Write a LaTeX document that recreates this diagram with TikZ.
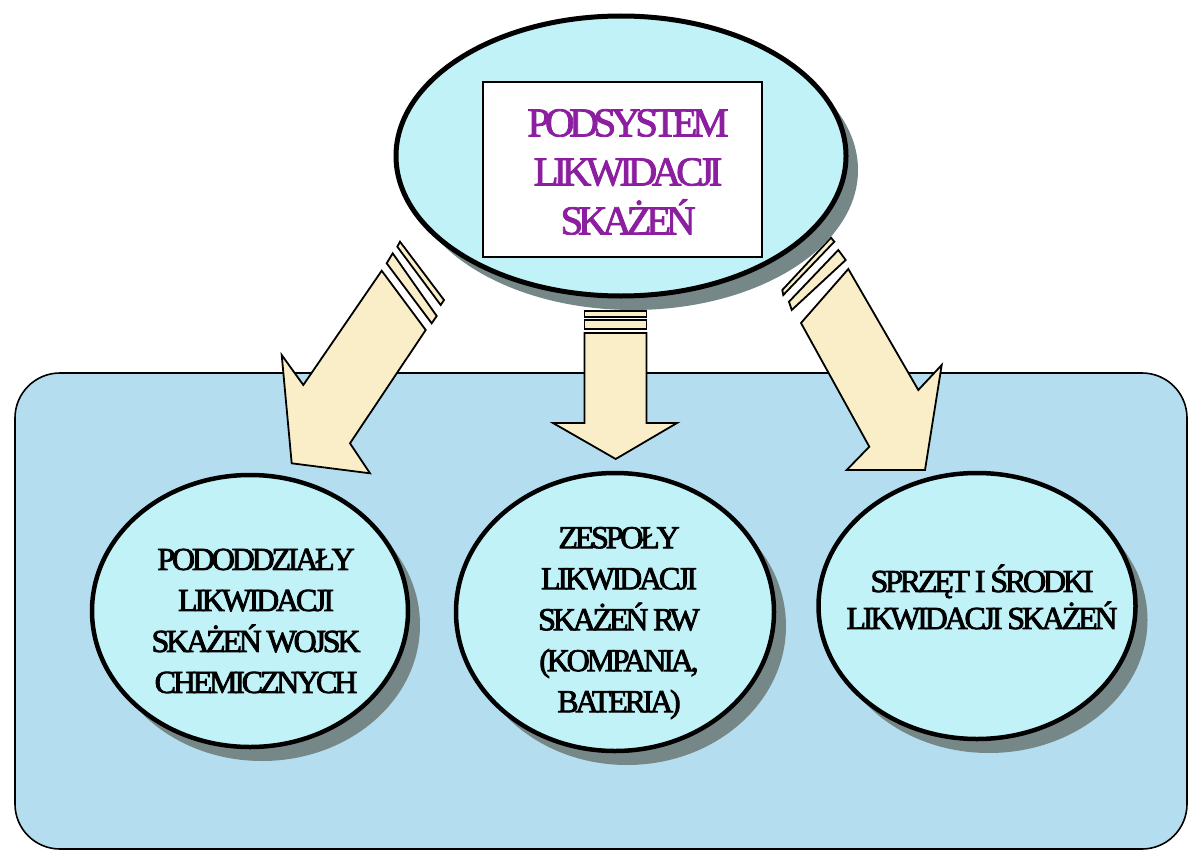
\documentclass[tikz,border=0pt]{standalone}
\usepackage{fontspec}
\setmainfont{Liberation Serif}
\newfontfamily\tightfont[LetterSpace=-10,FakeBold=2.5]{Liberation Serif}
\newfontfamily\toptightfont[LetterSpace=-13,FakeBold=2]{Liberation Serif}
\usetikzlibrary{shapes.geometric,shadows}
\definecolor{panelblue}{RGB}{180,222,240}
\definecolor{ellcyan}{RGB}{192,242,248}
\definecolor{creamfill}{RGB}{250,238,200}
\definecolor{shgrey}{RGB}{118,135,135}
\definecolor{titlepurple}{RGB}{140,30,160}
\tikzset{
  panelbox/.style={draw=black, line width=1.6pt, fill=panelblue, rounded corners=45pt},
  fatarrow/.style={draw=black, line width=1.8pt, fill=creamfill, line join=miter},
  ellnode/.style={ellipse, draw=black, line width=4.5pt, fill=ellcyan, inner sep=0pt,
    drop shadow={shadow xshift=12pt, shadow yshift=-14pt, fill=shgrey, opacity=1}},
  titlebox/.style={rectangle, draw=black, line width=1.4pt, fill=white, inner sep=0pt},
  ltext/.style={align=center, text=black, inner sep=0pt, font=\tightfont\fontsize{32pt}{41pt}\selectfont},
  ttext/.style={align=center, text=titlepurple, inner sep=0pt, font=\toptightfont\fontsize{41pt}{49pt}\selectfont}
}
\begin{document}
\begin{tikzpicture}[x=1pt,y=-1pt]
\useasboundingbox (0,0) rectangle (1191,851);
\fill[white] (0,0) rectangle (1191,851);
% panel
\draw[panelbox] (15,373) rectangle (1187,849);
% left arrow
\draw[fatarrow] (400,241.7) -- (444,300) -- (440.7,305) -- (397.3,246.7) -- cycle;
\draw[fatarrow] (392.7,253.3) -- (436.7,316) -- (431.7,323.3) -- (386.7,263.3) -- cycle;
\draw[fatarrow] (381.7,270.7) -- (425.7,330) -- (350,443.3) -- (370,473.3) -- (291.7,463.3) -- (281.7,355) -- (303.3,385) -- cycle;
% middle arrow
\draw[fatarrow] (584.5,311) rectangle (646.5,317);
\draw[fatarrow] (584.5,320) rectangle (646.5,329);
\draw[fatarrow] (584.5,333) -- (646.5,333) -- (646.5,423) -- (677,423) -- (615.7,459) -- (553,423) -- (584.5,423) -- cycle;
% right arrow
\draw[fatarrow] (782.3,290) -- (831,237.7) -- (834.3,241.7) -- (783.3,295) -- cycle;
\draw[fatarrow] (789,301.7) -- (838.3,250) -- (845.7,260) -- (791.7,310) -- cycle;
\draw[fatarrow] (801,323) -- (848.3,269) -- (918.3,390) -- (941.7,365) -- (925,470) -- (846.7,470) -- (869.3,446.7) -- cycle;
% lower ellipses
\node[ellnode, minimum width=316pt, minimum height=272pt] (left) at (250,611) {};
\node[ellnode, minimum width=318pt, minimum height=278pt] (mid) at (615,612) {};
\node[ellnode, minimum width=317pt, minimum height=266pt] (right) at (977,606) {};
\node[ltext] (lefttext) at (256,621) {PODODDZIAŁY\\LIKWIDACJI\\SKAŻEŃ WOJSK\\CHEMICZNYCH};
\node[ltext] (midtext) at (619,623) {ZESPOŁY\\LIKWIDACJI\\SKAŻEŃ RW\\(KOMPANIA,\\BATERIA)};
\node[ltext, font=\tightfont\fontsize{32pt}{37pt}\selectfont] (righttext) at (982,597) {SPRZĘT I ŚRODKI\\LIKWIDACJI SKAŻEŃ};
% top ellipse
\node[ellnode, line width=5pt, minimum width=450pt, minimum height=280pt] (top) at (621,156) {};
\node[titlebox, minimum width=279pt, minimum height=175pt] (title) at (622.5,169.5) {};
\node[ttext] (titletext) at (628,172) {PODSYSTEM\\LIKWIDACJI\\SKAŻEŃ};
\end{tikzpicture}
\end{document}
